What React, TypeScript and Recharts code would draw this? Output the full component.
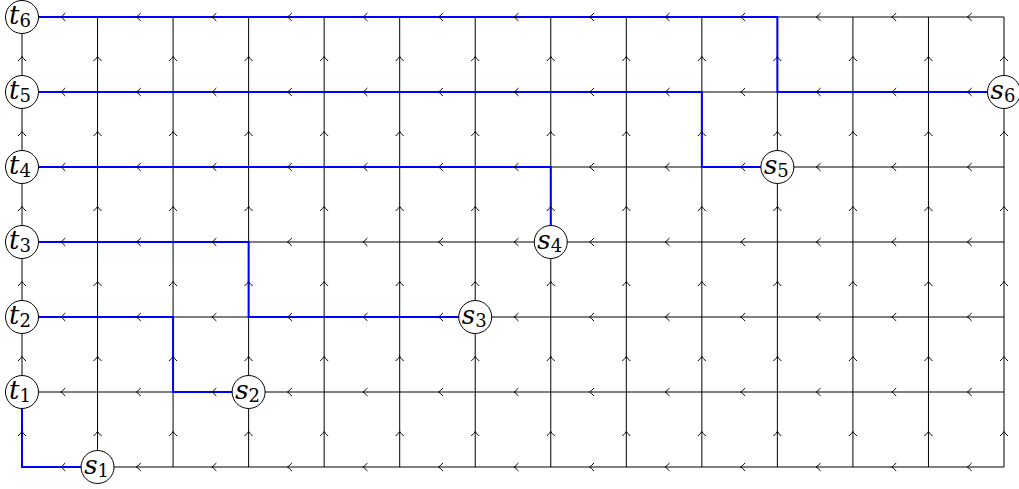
import React from "react";
import { ScatterChart, Scatter, XAxis, YAxis } from "recharts";

const columns = [0, 1, 2, 3, 4, 5, 6, 7, 8, 9, 10, 11, 12, 13];
const rows = [0, 1, 2, 3, 4, 5, 6];

const sources = [
  { x: 1, y: 0, name: "s", sub: "1" },
  { x: 3, y: 1, name: "s", sub: "2" },
  { x: 6, y: 2, name: "s", sub: "3" },
  { x: 7, y: 3, name: "s", sub: "4" },
  { x: 10, y: 4, name: "s", sub: "5" },
  { x: 13, y: 5, name: "s", sub: "6" },
];

const targets = [
  { x: 0, y: 1, name: "t", sub: "1" },
  { x: 0, y: 2, name: "t", sub: "2" },
  { x: 0, y: 3, name: "t", sub: "3" },
  { x: 0, y: 4, name: "t", sub: "4" },
  { x: 0, y: 5, name: "t", sub: "5" },
  { x: 0, y: 6, name: "t", sub: "6" },
];

const route1 = [{ x: 1, y: 0 }, { x: 0, y: 0 }, { x: 0, y: 1 }];
const route2 = [{ x: 3, y: 1 }, { x: 2, y: 1 }, { x: 2, y: 2 }, { x: 0, y: 2 }];
const route3 = [{ x: 6, y: 2 }, { x: 3, y: 2 }, { x: 3, y: 3 }, { x: 0, y: 3 }];
const route4 = [{ x: 7, y: 3 }, { x: 7, y: 4 }, { x: 0, y: 4 }];
const route5 = [{ x: 10, y: 4 }, { x: 9, y: 4 }, { x: 9, y: 5 }, { x: 0, y: 5 }];
const route6 = [{ x: 13, y: 5 }, { x: 10, y: 5 }, { x: 10, y: 6 }, { x: 0, y: 6 }];
const routes = [route1, route2, route3, route4, route5, route6];

const xMin = columns[0];
const xMax = columns[columns.length - 1];
const yMin = rows[0];
const yMax = rows[rows.length - 1];

const horizontalLines = rows.map((r) => [
  { x: xMin, y: r },
  { x: xMax, y: r },
]);
const verticalLines = columns.map((c) => [
  { x: c, y: yMin },
  { x: c, y: yMax },
]);

const leftArrows = rows.flatMap((r) =>
  columns.slice(0, -1).map((c) => ({ x: c + 0.5, y: r }))
);
const upArrows = columns.flatMap((c) =>
  rows.slice(0, -1).map((r) => ({ x: c, y: r + 0.5 }))
);

const Empty = () => <g />;

const LeftArrow = (props: any) => {
  const { cx, cy } = props;
  const t = cx + 1;
  return (
    <path
      d={`M ${t + 4.5} ${cy - 4} Q ${t + 1.5} ${cy - 0.8} ${t} ${cy} Q ${t + 1.5} ${cy + 0.8} ${t + 4.5} ${cy + 4}`}
      fill="none"
      stroke="#000"
      strokeWidth={1}
    />
  );
};

const UpArrow = (props: any) => {
  const { cx, cy } = props;
  const t = cy + 2;
  return (
    <path
      d={`M ${cx - 4} ${t + 4.5} Q ${cx - 0.8} ${t + 1.5} ${cx} ${t} Q ${cx + 0.8} ${t + 1.5} ${cx + 4} ${t + 4.5}`}
      fill="none"
      stroke="#000"
      strokeWidth={1}
    />
  );
};

const NodeShape = (props: any) => {
  const { cx, cy, payload } = props;
  const isT = payload.name === "t";
  return (
    <g>
      <circle cx={cx} cy={cy} r={16.5} fill="#fff" stroke="#000" strokeWidth={1} />
      <text
        x={cx + (isT ? -2 : -1)}
        y={cy + 6.5}
        textAnchor="middle"
        style={{ fontFamily: "DejaVu Serif", fontSize: 26 }}
        fill="#000"
      >
        <tspan style={{ fontStyle: "italic" }}>{payload.name}</tspan>
        <tspan style={{ fontSize: 18 }} dy={3}>
          {payload.sub}
        </tspan>
      </text>
    </g>
  );
};

export default function App() {
  return (
    <div style={{ width: 1019, height: 489, background: "#fff" }}>
      <style>{"body{margin:0;}"}</style>
      <ScatterChart
        width={1019}
        height={489}
        margin={{ top: 17, right: 15, bottom: 22, left: 22 }}
      >
        <XAxis type="number" dataKey="x" domain={[xMin, xMax]} hide />
        <YAxis type="number" dataKey="y" domain={[yMin, yMax]} hide />
        {horizontalLines.map((d, i) => (
          <Scatter
            key={`h${i}`}
            data={d}
            line={{ stroke: "#000", strokeWidth: 1 }}
            shape={Empty}
            isAnimationActive={false}
          />
        ))}
        {verticalLines.map((d, i) => (
          <Scatter
            key={`v${i}`}
            data={d}
            line={{ stroke: "#000", strokeWidth: 1 }}
            shape={Empty}
            isAnimationActive={false}
          />
        ))}
        {routes.map((d, i) => (
          <Scatter
            key={`r${i}`}
            data={d}
            line={{ stroke: "#0000ff", strokeWidth: 2 }}
            shape={Empty}
            isAnimationActive={false}
          />
        ))}
        <Scatter data={leftArrows} shape={LeftArrow} isAnimationActive={false} />
        <Scatter data={upArrows} shape={UpArrow} isAnimationActive={false} />
        <Scatter data={targets} shape={NodeShape} isAnimationActive={false} />
        <Scatter data={sources} shape={NodeShape} isAnimationActive={false} />
      </ScatterChart>
    </div>
  );
}
